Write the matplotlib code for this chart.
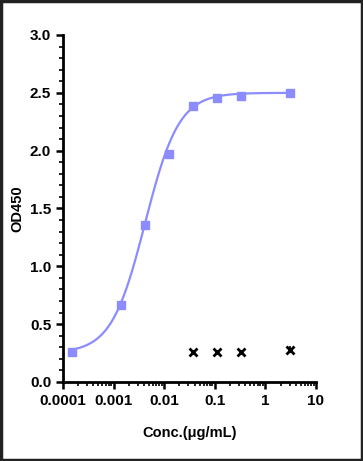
import numpy as np
import matplotlib
matplotlib.use("Agg")
import matplotlib.pyplot as plt
from matplotlib.ticker import MultipleLocator, LogLocator, NullFormatter, FixedLocator
from matplotlib.patches import Rectangle

plt.rcParams['font.family'] = ['Liberation Sans', 'DejaVu Sans']
plt.rcParams['font.weight'] = 'bold'

# samples (3-fold dilutions)
conc = [0.000152, 0.00137, 0.00412, 0.0123, 0.037, 0.111, 0.333, 3.0]
od = [0.26, 0.666, 1.357, 1.97, 2.386, 2.455, 2.473, 2.50]

# negative control
conc_neg = [0.037, 0.111, 0.333, 3.0]
od_neg = [0.26, 0.26, 0.26, 0.28]
err_neg = [0.01, 0.01, 0.01, 0.03]

# 4PL fit parameters
bottom, top, ec50, hill = 0.25, 2.50, 0.0042, 1.3

xticks = [0.0001, 0.001, 0.01, 0.1, 1, 10]
xticklabels = ["0.0001", "0.001", "0.01", "0.1", "1", "10"]

blue = "#8c8cff"

fig = plt.figure(figsize=(3.63, 4.61), dpi=100)
ax = fig.add_axes([0.1736, 0.1714, 0.8705 - 0.1736, 0.9241 - 0.1714])

xs = np.logspace(np.log10(conc[0]), np.log10(conc[-1]), 300)
ys = bottom + (top - bottom) / (1 + (ec50 / xs) ** hill)
ax.plot(xs, ys, color=blue, lw=1.6, zorder=2)
ax.plot(conc, od, ls="none", marker="s", ms=6, color=blue, zorder=3)

ax.errorbar(conc_neg, od_neg, yerr=err_neg, ls="none", marker="x", ms=6,
            mew=2, color="black", ecolor="black", elinewidth=1.2, capsize=0, zorder=3)

ax.set_xscale("log")
ax.set_xlim(0.0001, 10)
ax.set_ylim(0, 3.0)
ax.xaxis.set_major_locator(FixedLocator(xticks))
ax.set_xticklabels(xticklabels)
ax.xaxis.set_minor_locator(LogLocator(base=10, subs=np.arange(2, 10), numticks=20))
ax.xaxis.set_minor_formatter(NullFormatter())
ax.yaxis.set_major_locator(MultipleLocator(0.5))
ax.yaxis.set_minor_locator(MultipleLocator(0.1))
ax.yaxis.set_major_formatter(plt.FormatStrFormatter("%.1f"))

for s in ["top", "right"]:
    ax.spines[s].set_visible(False)
for s in ["left", "bottom"]:
    ax.spines[s].set_linewidth(2)
ax.tick_params(which="major", length=5, width=1.8, labelsize=11, direction="out")
ax.tick_params(which="minor", length=3, width=1.2, direction="out")

ax.set_xlabel("Conc.(μg/mL)", fontsize=10.5, fontweight="bold", labelpad=13)
ax.set_ylabel("OD450", fontsize=10.5, fontweight="bold", labelpad=4)

fig.patches.append(Rectangle((0.004, 0.003), 0.992, 0.994, transform=fig.transFigure,
                             fill=False, edgecolor="#222222", lw=2.5))

fig.savefig("out.png", dpi=100)
